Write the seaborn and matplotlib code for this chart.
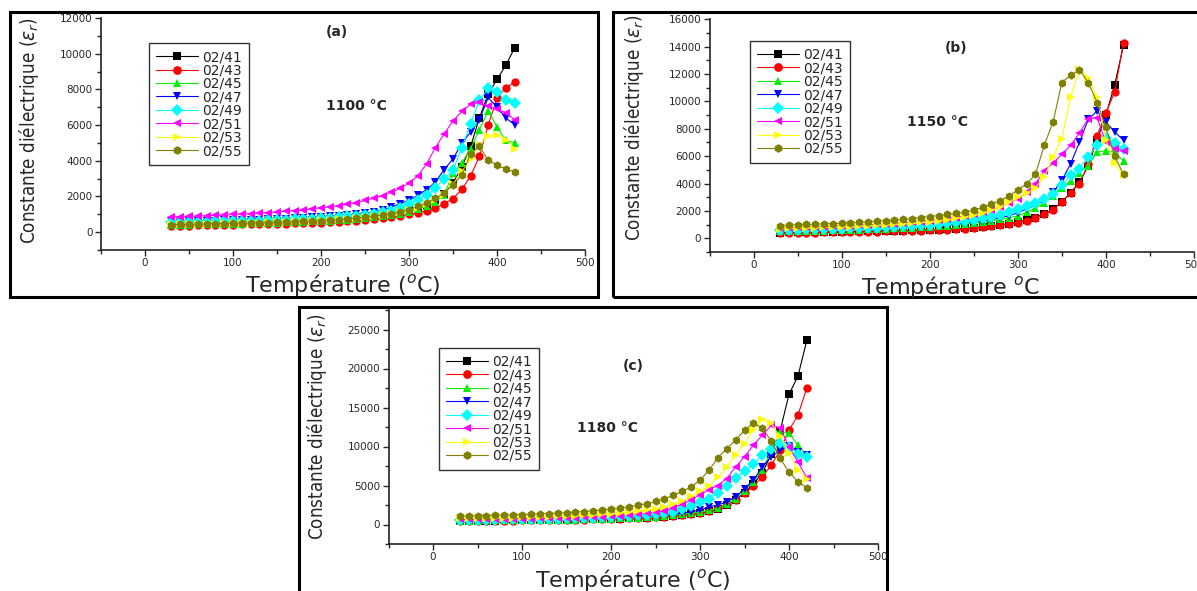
import matplotlib.pyplot as plt
import matplotlib.patches as patches
from matplotlib.ticker import MultipleLocator
import pandas as pd
import seaborn as sns

# temperature grid (deg C), shared by every curve
TEMP = [30, 40, 50, 60, 70, 80, 90, 100, 110, 120, 130, 140, 150, 160, 170,
        180, 190, 200, 210, 220, 230, 240, 250, 260, 270, 280, 290, 300, 310,
        320, 330, 340, 350, 360, 370, 380, 390, 400, 410, 420]

SAMPLES = ["02/41", "02/43", "02/45", "02/47", "02/49", "02/51", "02/53", "02/55"]
COLORS = ["#000000", "#ff0000", "#00ee00", "#0000ff", "#00ffff", "#ff00ff", "#ffff00", "#808000"]
MARKERS = ["s", "o", "^", "v", "D", "<", ">", "h"]

# (a) sintered at 1100 C
A_41 = [480, 490, 500, 510, 520, 530, 540, 550, 560, 570, 580, 600, 610, 630, 650, 670, 690, 720, 740, 770,
        800, 840, 880, 930, 990, 1060, 1140, 1240, 1370, 1540, 1780, 2150, 2750, 3650, 4800, 6400, 7750, 8560, 9350, 10320]
A_43 = [350, 360, 370, 380, 390, 400, 410, 420, 430, 440, 450, 460, 470, 480, 490, 500, 510, 530, 550, 570,
        600, 630, 670, 720, 780, 840, 900, 990, 1080, 1200, 1350, 1600, 1870, 2400, 3140, 4250, 6000, 7500, 8100, 8400]
A_45 = [400, 410, 420, 430, 440, 450, 460, 470, 480, 490, 500, 515, 530, 545, 560, 580, 600, 620, 640, 670,
        700, 740, 780, 830, 890, 950, 1030, 1150, 1300, 1450, 1700, 2100, 3300, 3870, 4680, 5740, 6800, 5890, 5140, 5000]
A_47 = [600, 610, 620, 630, 640, 650, 660, 670, 680, 690, 700, 720, 740, 760, 780, 800, 830, 860, 890, 920,
        960, 1010, 1070, 1140, 1260, 1400, 1600, 1800, 2060, 2390, 2810, 3510, 4100, 4990, 5600, 6300, 7550, 7000, 6400, 6020]
A_49 = [550, 560, 570, 580, 590, 600, 610, 620, 630, 640, 650, 665, 680, 700, 720, 740, 760, 790, 820, 850,
        890, 930, 980, 1040, 1110, 1200, 1380, 1600, 1780, 2060, 2470, 3000, 3460, 4730, 6080, 7390, 8050, 7850, 7390, 7240]
A_51 = [840, 860, 880, 900, 920, 940, 960, 990, 1010, 1040, 1070, 1100, 1130, 1170, 1210, 1260, 1310, 1370, 1420, 1480,
        1560, 1650, 1780, 1900, 2050, 2250, 2450, 2750, 3140, 3840, 4730, 5520, 6230, 6770, 7160, 7270, 7050, 6880, 6700, 6300]
A_53 = [430, 440, 450, 460, 470, 480, 490, 500, 510, 520, 530, 545, 560, 580, 600, 620, 640, 660, 690, 720,
        750, 790, 840, 890, 950, 1020, 1110, 1230, 1380, 1560, 1800, 2100, 2700, 3400, 4100, 4900, 5370, 5420, 5180, 4680]
A_55 = [420, 430, 440, 450, 460, 470, 480, 490, 500, 510, 520, 535, 550, 565, 580, 600, 620, 640, 670, 700,
        740, 780, 830, 890, 960, 1040, 1140, 1260, 1460, 1650, 1900, 2190, 2670, 3180, 4400, 4800, 4050, 3740, 3550, 3370]

# (b) sintered at 1150 C
B_41 = [420, 430, 440, 450, 460, 470, 480, 490, 500, 510, 520, 530, 540, 550, 560, 580, 600, 620, 640, 670,
        700, 740, 780, 840, 910, 980, 1070, 1190, 1330, 1520, 1780, 2120, 2660, 3330, 4100, 5300, 7200, 9000, 11230, 14100]
B_43 = [380, 390, 400, 410, 420, 430, 440, 450, 460, 470, 480, 490, 500, 510, 520, 540, 560, 580, 600, 630,
        660, 700, 740, 810, 880, 950, 1040, 1150, 1300, 1500, 1760, 2100, 2650, 3330, 4000, 5400, 7500, 9160, 10700, 14300]
B_45 = [520, 530, 540, 550, 560, 570, 580, 600, 620, 640, 660, 680, 700, 720, 750, 780, 810, 850, 890, 930,
        980, 1030, 1100, 1180, 1270, 1380, 1500, 1650, 1900, 2200, 2600, 3100, 3700, 4200, 4800, 5300, 6300, 6400, 6300, 5640]
B_47 = [560, 570, 580, 590, 600, 610, 620, 640, 660, 680, 700, 720, 740, 770, 800, 830, 870, 910, 950, 1000,
        1050, 1110, 1180, 1270, 1370, 1500, 1650, 1860, 2150, 2400, 2760, 3370, 4230, 5450, 7030, 8700, 9300, 8500, 7770, 7160]
B_49 = [620, 630, 640, 650, 660, 670, 680, 700, 720, 740, 760, 780, 810, 840, 870, 910, 950, 1000, 1050, 1110,
        1180, 1260, 1350, 1460, 1580, 1730, 1910, 2130, 2380, 2600, 2890, 3250, 3860, 4640, 5080, 5930, 6800, 7300, 6970, 6550]
B_51 = [760, 780, 800, 820, 840, 860, 880, 900, 920, 950, 980, 1010, 1040, 1080, 1120, 1170, 1220, 1280, 1350, 1430,
        1520, 1630, 1760, 1910, 2090, 2300, 2570, 2900, 3400, 4000, 4910, 5500, 6130, 6800, 7700, 8750, 8800, 7000, 6550, 6400]
B_53 = [700, 720, 740, 760, 780, 800, 820, 840, 860, 890, 920, 950, 980, 1020, 1060, 1110, 1160, 1220, 1290, 1370,
        1460, 1570, 1700, 1860, 2050, 2300, 2620, 3000, 3300, 3690, 4470, 5930, 7280, 10330, 12400, 11680, 10330, 7160, 5470, 4590]
B_55 = [930, 960, 990, 1010, 1030, 1050, 1070, 1100, 1130, 1160, 1200, 1240, 1280, 1330, 1380, 1440, 1510, 1590, 1660, 1740,
        1820, 1910, 2070, 2260, 2510, 2750, 3100, 3540, 3980, 4670, 6790, 8500, 11380, 11920, 12300, 11380, 9920, 8130, 5990, 4670]

# (c) sintered at 1180 C
C_41 = [470, 480, 490, 500, 510, 520, 530, 540, 550, 560, 570, 590, 610, 630, 650, 670, 700, 730, 760, 800,
        840, 890, 950, 1020, 1110, 1220, 1330, 1450, 1700, 2000, 2500, 3200, 4100, 5200, 6600, 9000, 12000, 16700, 19000, 23600]
C_43 = [450, 460, 470, 480, 490, 500, 510, 520, 530, 540, 550, 570, 590, 610, 630, 650, 680, 710, 740, 780,
        820, 870, 930, 1000, 1090, 1200, 1330, 1500, 1750, 2100, 2600, 3200, 4000, 4900, 6100, 7600, 9500, 12100, 14000, 17500]
C_45 = [500, 505, 510, 520, 530, 540, 550, 560, 570, 580, 590, 600, 620, 640, 660, 680, 710, 740, 770, 810,
        860, 920, 990, 1080, 1180, 1310, 1450, 1600, 1800, 2100, 2600, 3300, 4300, 5500, 7000, 9500, 11800, 11700, 10170, 8880]
C_47 = [520, 530, 540, 550, 560, 570, 580, 590, 600, 610, 620, 640, 660, 680, 700, 730, 760, 800, 840, 890,
        940, 1000, 1080, 1180, 1300, 1450, 1630, 1840, 2260, 2500, 2900, 3540, 4600, 5680, 7390, 8700, 9500, 10100, 9300, 8880]
C_49 = [600, 610, 620, 630, 640, 650, 660, 680, 700, 720, 740, 760, 790, 820, 850, 890, 930, 980, 1030, 1090,
        1160, 1240, 1340, 1460, 1620, 1950, 2400, 2900, 3330, 4100, 4950, 5900, 6880, 7770, 8880, 9740, 10500, 10000, 9100, 8700]
C_51 = [650, 660, 670, 680, 690, 700, 720, 740, 760, 780, 800, 830, 860, 890, 930, 970, 1020, 1080, 1150, 1230,
        1320, 1430, 1560, 1720, 2150, 2600, 3150, 3800, 4450, 5000, 5890, 7390, 8700, 10170, 11450, 12700, 12400, 10000, 8000, 6000]
C_53 = [770, 790, 810, 830, 850, 870, 890, 910, 940, 970, 1000, 1040, 1080, 1120, 1170, 1230, 1300, 1380, 1470, 1570,
        1690, 1830, 2000, 2250, 2600, 3000, 3600, 4250, 4950, 6030, 7390, 8880, 10380, 12100, 13500, 13000, 11300, 9200, 7000, 5800]
C_55 = [1050, 1080, 1110, 1140, 1170, 1200, 1230, 1270, 1310, 1350, 1400, 1450, 1510, 1580, 1660, 1750, 1850, 1970, 2100, 2250,
        2450, 2680, 2950, 3310, 3740, 4250, 4820, 5680, 6960, 8540, 9740, 10810, 12090, 13000, 12400, 10700, 8500, 6700, 5500, 4700]

W, H = 1197, 591


def fx(px):
    return px / W


def fy(py):
    return 1 - py / H


def build_frame(series):
    rows = []
    for name, values in zip(SAMPLES, series):
        for t, v in zip(TEMP, values):
            rows.append({"T": t, "eps": v, "sample": name})
    return pd.DataFrame(rows)


def draw_panel(fig, box, series, ylim, ystep, letter, letter_xy, sinter, sinter_xy, legend_xy):
    # box = (left, top, right, bottom) of the axes in pixels
    left, top, right, bottom = box
    ax = fig.add_axes([fx(left), fy(bottom), fx(right) - fx(left), fy(top) - fy(bottom)])
    df = build_frame(series)
    sns.lineplot(
        data=df, x="T", y="eps", hue="sample", style="sample",
        hue_order=SAMPLES, style_order=SAMPLES,
        palette=dict(zip(SAMPLES, COLORS)), markers=dict(zip(SAMPLES, MARKERS)),
        dashes=False, estimator=None, sort=True, legend=False, ax=ax,
        linewidth=0.8, markersize=6, markeredgewidth=0,
    )
    ax.set_xlim(-50, 500)
    ax.set_ylim(*ylim)
    ax.xaxis.set_major_locator(MultipleLocator(100))
    ax.xaxis.set_minor_locator(MultipleLocator(50))
    ax.yaxis.set_major_locator(MultipleLocator(ystep))
    ax.yaxis.set_minor_locator(MultipleLocator(ystep / 2))
    ax.set_xlabel("")
    ax.set_ylabel("")
    ax.patch.set_alpha(0)
    for side in ["top", "right"]:
        ax.spines[side].set_visible(False)
    for side in ["left", "bottom"]:
        ax.spines[side].set_linewidth(1.2)
        ax.spines[side].set_color("#222222")
    ax.tick_params(which="major", direction="out", length=4, width=1, labelsize=7.5, pad=2)
    ax.tick_params(which="minor", direction="out", length=3, width=1)

    ax.text(*letter_xy, letter, transform=ax.transAxes, ha="center", va="center",
            fontsize=10, fontweight="bold")
    ax.text(*sinter_xy, sinter, transform=ax.transAxes, ha="center", va="center",
            fontsize=10, fontweight="bold")

    ax.legend(ax.lines[:len(SAMPLES)], SAMPLES, loc="upper left", bbox_to_anchor=legend_xy,
              borderaxespad=0, fontsize=10, frameon=True, fancybox=False,
              edgecolor="#333333", framealpha=1, labelspacing=-0.04, handlelength=3.0,
              handletextpad=0.35, borderpad=0.5, markerscale=1.05)
    ax.get_legend().get_frame().set_linewidth(1.0)
    return ax


def panel_box(fig, x0, y0, x1, y1):
    fig.add_artist(patches.Rectangle((fx(x0), fy(y1)), fx(x1) - fx(x0), fy(y0) - fy(y1),
                                     transform=fig.transFigure, fill=False,
                                     linewidth=2.2, edgecolor="black"))


sns.set_style("ticks")
fig = plt.figure(figsize=(W / 100, H / 100), dpi=100)

ylab = r"Constante diélectrique ($\varepsilon_r$)"
ylab_kw = dict(rotation=90, ha="center", va="center", fontsize=13.5,
               family="DejaVu Sans", fontstretch="condensed")

# ---- (a)
draw_panel(fig, (101, 18, 585, 250), [A_41, A_43, A_45, A_47, A_49, A_51, A_53, A_55],
           (-1000, 12000), 2000, "(a)", (0.488, 0.94), "1100 °C", (0.527, 0.621),
           (0.099, 0.892))
fig.text(fx(29), fy(131), ylab, **ylab_kw)
fig.text(fx(343), fy(285), "Température ($^{o}$C)", ha="center", va="center", fontsize=16)
panel_box(fig, 10, 12, 598, 297)

# ---- (b)
draw_panel(fig, (709.5, 19.3, 1194, 252), [B_41, B_43, B_45, B_47, B_49, B_51, B_53, B_55],
           (-1000, 16000), 2000, "(b)", (0.509, 0.877), "1150 °C", (0.47, 0.558),
           (0.0836, 0.907))
fig.text(fx(634), fy(128), ylab, **ylab_kw)
fig.text(fx(950), fy(287), "Température $^{o}$C", ha="center", va="center", fontsize=16)
panel_box(fig, 613, 12, 1215, 297)

# ---- (c)
draw_panel(fig, (388.6, 310, 878, 544), [C_41, C_43, C_45, C_47, C_49, C_51, C_53, C_55],
           (-2500, 27500), 5000, "(c)", (0.499, 0.761), "1180 °C", (0.448, 0.496),
           (0.103, 0.838))
fig.text(fx(317), fy(427), ylab, **ylab_kw)
fig.text(fx(633), fy(580), "Température ($^{o}$C)", ha="center", va="center", fontsize=16)
panel_box(fig, 299, 307, 887, 610)

fig.savefig("out.png", dpi=100, facecolor="white")
